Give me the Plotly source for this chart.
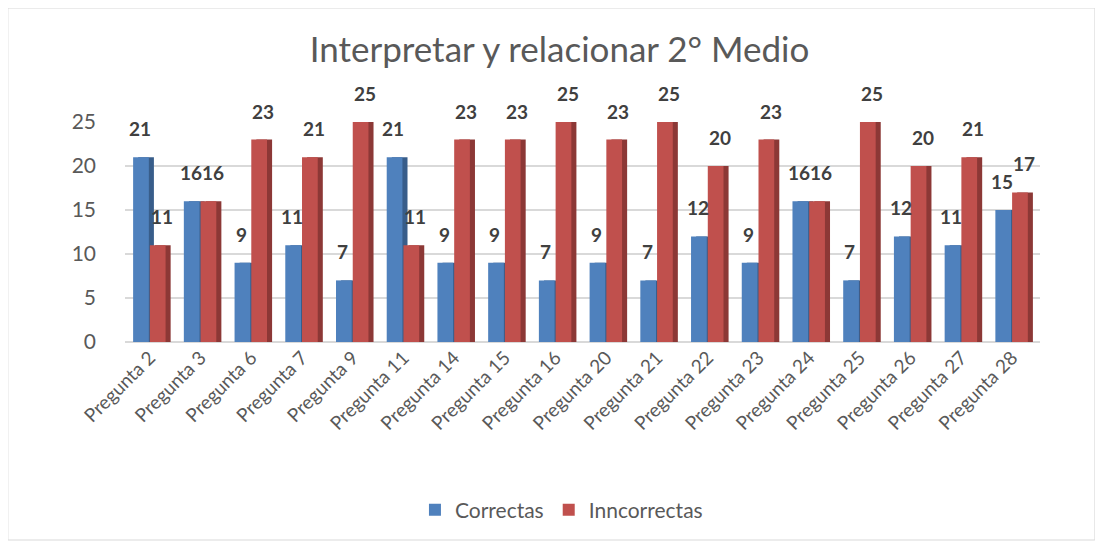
import plotly.graph_objects as go

preguntas = ["Pregunta 2", "Pregunta 3", "Pregunta 6", "Pregunta 7", "Pregunta 9",
             "Pregunta 11", "Pregunta 14", "Pregunta 15", "Pregunta 16", "Pregunta 20",
             "Pregunta 21", "Pregunta 22", "Pregunta 23", "Pregunta 24", "Pregunta 25",
             "Pregunta 26", "Pregunta 27", "Pregunta 28"]
correctas = [21, 16, 9, 11, 7, 21, 9, 9, 7, 9, 7, 12, 9, 16, 7, 12, 11, 15]
incorrectas = [11, 16, 23, 21, 25, 11, 23, 23, 25, 23, 25, 20, 23, 16, 25, 20, 21, 17]

FONT = "Lato"
w = 0.31
lbl = dict(family=FONT, size=19, color="#404040", weight="bold")

fig = go.Figure()
# darker side faces to fake the 3D look
fig.add_trace(go.Bar(x=preguntas, y=correctas, width=w, offset=-0.33 + 0.1,
                     marker=dict(color="#385d8a", line=dict(width=0)),
                     showlegend=False, hoverinfo="skip"))
fig.add_trace(go.Bar(x=preguntas, y=correctas, width=w, offset=-0.33, name="Correctas",
                     marker=dict(color="#4f81bd", line=dict(width=0))))
fig.add_trace(go.Bar(x=preguntas, y=incorrectas, width=w, offset=0.1,
                     marker=dict(color="#8c3836", line=dict(width=0)),
                     showlegend=False, hoverinfo="skip"))
fig.add_trace(go.Bar(x=preguntas, y=incorrectas, width=w, offset=0, name="Inncorrectas",
                     marker=dict(color="#c0504d", line=dict(width=0))))

# data labels sit a bit above and beside each bar, like Excel's 3D ones
for p, c, i in zip(preguntas, correctas, incorrectas):
    fig.add_annotation(x=p, y=c, text=str(c), showarrow=False, xshift=-10, yshift=15,
                       yanchor="bottom", font=lbl)
    fig.add_annotation(x=p, y=i, text=str(i), showarrow=False, xshift=12, yshift=15,
                       yanchor="bottom", font=lbl)

fig.update_layout(
    barmode="overlay",
    width=1103, height=546,
    margin=dict(l=117, r=71, t=114, b=212),
    paper_bgcolor="white", plot_bgcolor="white",
    font=dict(family=FONT, color="#595959"),
    title=dict(text="Interpretar y relacionar 2° Medio", x=0.5, xanchor="center",
               y=0.923, yanchor="middle", font=dict(family=FONT, size=35, color="#595959")),
    legend=dict(orientation="h", x=0.477, xanchor="center", y=-0.764, yanchor="middle",
                font=dict(family=FONT, size=21, color="#595959"), traceorder="normal"),
    shapes=[dict(type="rect", xref="paper", yref="paper", x0=-0.128, x1=1.06,
                 y0=-0.9, y1=1.518, line=dict(color="#d9d9d9", width=1))],
)
fig.update_xaxes(tickangle=-45, tickfont=dict(family=FONT, size=19, color="#595959"),
                 showline=False, ticks="", range=[-0.49, 17.55])
fig.update_yaxes(range=[0, 25], dtick=5, gridcolor="#d9d9d9", gridwidth=1.5,
                 zeroline=True, zerolinecolor="#d9d9d9", zerolinewidth=1.5,
                 tickfont=dict(family=FONT, size=21, color="#595959"), ticklabelstandoff=28)

fig.write_html("out.html")
